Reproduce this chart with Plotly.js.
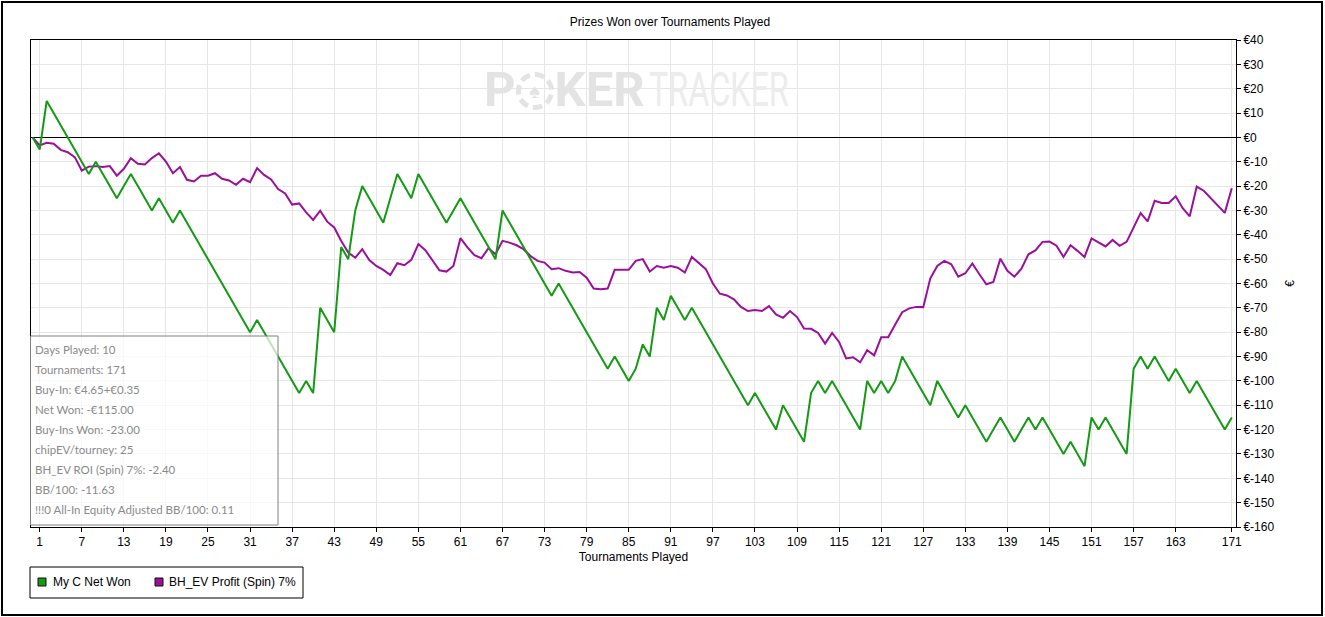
<!DOCTYPE html>
<html>
<head>
<meta charset="utf-8">
<script src="https://cdn.plot.ly/plotly-3.0.1.min.js"></script>
<style>
  html, body { margin: 0; padding: 0; background: #fff; }
  #wrap { position: relative; width: 1325px; height: 617px; overflow: hidden; }
  #chart { position: absolute; left: 0; top: 0; width: 1325px; height: 617px; }
  #frame { position: absolute; left: 1px; top: 1px; width: 1322px; height: 615px; box-sizing: border-box; border: 2px solid #000; pointer-events: none; }
  #wm { position: absolute; left: 484px; top: 60px; white-space: nowrap; pointer-events: none; font-family: Roboto, "Liberation Sans", sans-serif; font-size: 49px; line-height: 60px; }
  #wm .poker { font-weight: bold; color: #e3e3e3; display: inline-block; vertical-align: top; }
  #wm .chip { display: inline-block; width: 28px; height: 28px; border: 5px dashed #e3e3e3; border-radius: 50%; vertical-align: top; margin-top: 12px; margin-right: 1px; text-align: center; font-size: 20px; line-height: 28px; color: #e3e3e3; }
  #wm .tracker { font-weight: normal; color: #ececec; display: inline-block; transform: scaleX(0.66); transform-origin: left center; vertical-align: top; margin-left: 4px; }
</style>
</head>
<body>
<div id="wrap">
  <div id="chart"></div>
  <div id="wm"><span class="poker">P<span class="chip">♠</span>KER</span><span class="tracker">TRACKER</span></div>
  <div id="frame"></div>
</div>
<script>
// ---------------- DATA ----------------
const chartTitle = "Prizes Won over Tournaments Played";
const xTitle = "Tournaments Played";
const yTitle = "€";
const seriesNames = ["My C Net Won", "BH_EV Profit (Spin) 7%"];
const seriesColors = ["#149a14", "#9a109a"];

// My C Net Won, cumulative €, tournament 0..171
const netWon = [
  0, -5, 15, 10, 5, 0, -5, -10, -15, -10,
  -15, -20, -25, -20, -15, -20, -25, -30, -25, -30,
  -35, -30, -35, -40, -45, -50, -55, -60, -65, -70,
  -75, -80, -75, -80, -85, -90, -95, -100, -105, -100,
  -105, -70, -75, -80, -45, -50, -30, -20, -25, -30,
  -35, -25, -15, -20, -25, -15, -20, -25, -30, -35,
  -30, -25, -30, -35, -40, -45, -50, -30, -35, -40,
  -45, -50, -55, -60, -65, -60, -65, -70, -75, -80,
  -85, -90, -95, -90, -95, -100, -95, -85, -90, -70,
  -75, -65, -70, -75, -70, -75, -80, -85, -90, -95,
  -100, -105, -110, -105, -110, -115, -120, -110, -115, -120,
  -125, -105, -100, -105, -100, -105, -110, -115, -120, -100,
  -105, -100, -105, -100, -90, -95, -100, -105, -110, -100,
  -105, -110, -115, -110, -115, -120, -125, -120, -115, -120,
  -125, -120, -115, -120, -115, -120, -125, -130, -125, -130,
  -135, -115, -120, -115, -120, -125, -130, -95, -90, -95,
  -90, -95, -100, -95, -100, -105, -100, -105, -110, -115,
  -120, -115
];

// BH_EV Profit (Spin) 7%, cumulative €, tournament 0..171
const bhEvProfit = [
  0, -3.3, -2.2, -2.6, -5.1, -6.1, -8.1, -13.6, -12.0, -11.8,
  -12.2, -11.8, -15.7, -12.9, -8.5, -10.8, -11.1, -8.5, -6.5, -9.9,
  -14.7, -12.2, -17.4, -18.1, -15.7, -15.7, -14.7, -17.0, -17.7, -19.5,
  -17.0, -18.4, -12.6, -15.4, -17.3, -21.2, -23.0, -27.6, -27.1, -30.8,
  -33.9, -30.1, -34.6, -37.0, -42.5, -47.3, -49.4, -45.9, -50.4, -52.8,
  -54.4, -56.5, -51.7, -52.5, -50.3, -43.8, -46.3, -50.7, -54.6, -55.1,
  -52.8, -41.4, -45.2, -48.4, -49.6, -45.5, -48.0, -42.5, -43.2, -44.3,
  -45.9, -48.7, -50.7, -51.4, -54.1, -53.7, -54.8, -55.5, -55.3, -57.6,
  -62.1, -62.4, -62.1, -54.4, -54.4, -54.4, -50.7, -50.0, -55.1, -52.8,
  -53.5, -52.8, -53.5, -55.5, -49.1, -51.7, -54.1, -60.0, -64.2, -64.9,
  -66.5, -69.6, -71.3, -70.9, -71.3, -69.3, -72.7, -74.1, -71.3, -73.8,
  -78.5, -78.6, -80.3, -84.7, -80.3, -84.0, -90.8, -90.3, -92.4, -87.4,
  -89.5, -82.1, -82.1, -76.8, -71.8, -70.2, -69.6, -69.7, -58.0, -52.8,
  -50.7, -52.1, -57.2, -55.8, -51.8, -56.2, -60.3, -59.4, -49.8, -54.8,
  -57.2, -53.9, -48.0, -46.4, -42.9, -42.8, -44.5, -49.1, -44.3, -46.6,
  -49.1, -41.5, -43.2, -44.8, -42.1, -44.5, -42.9, -37.0, -31.1, -34.5,
  -26.0, -26.9, -26.9, -24.2, -29.1, -32.4, -20.2, -21.9, -24.9, -27.8,
  -31.0, -20.9
];

const xTickVals = [1, 7, 13, 19, 25, 31, 37, 43, 49, 55, 61, 67, 73, 79, 85, 91, 97, 103, 109, 115, 121, 127, 133, 139, 145, 151, 157, 163, 171];
const xTickText = ["1", "7", "13", "19", "25", "31", "37", "43", "49", "55", "61", "67", "73", "79", "85", "91", "97", "103", "109", "115", "121", "127", "133", "139", "145", "151", "157", "163", "171"];
const yTickVals = [40, 30, 20, 10, 0, -10, -20, -30, -40, -50, -60, -70, -80, -90, -100, -110, -120, -130, -140, -150, -160];
const yTickText = ["€40", "€30", "€20", "€10", "€0", "€-10", "€-20", "€-30", "€-40", "€-50", "€-60", "€-70", "€-80", "€-90", "€-100", "€-110", "€-120", "€-130", "€-140", "€-150", "€-160"];

const statsLines = [
  "Days Played: 10",
  "Tournaments: 171",
  "Buy-In: €4.65+€0.35",
  "Net Won: -€115.00",
  "Buy-Ins Won: -23.00",
  "chipEV/tourney: 25",
  "BH_EV ROI (Spin) 7%: -2.40",
  "BB/100: -11.63",
  "!!!0 All-In Equity Adjusted BB/100: 0.11"
];

// ---------------- CHART ----------------
const tournaments = netWon.map((_, i) => i);

const W = 1325, H = 617;
const M = { l: 31, r: 89, t: 40, b: 90 };
const PW = W - M.l - M.r, PH = H - M.t - M.b;
const px = (x) => (x - M.l) / PW;        // page px -> paper x
const py = (y) => (H - M.b - y) / PH;    // page px -> paper y

const axisFont = { family: "Liberation Sans, Arial, sans-serif", size: 12, color: "#000" };

const traces = [
  {
    x: tournaments, y: bhEvProfit, name: seriesNames[1], type: "scatter", mode: "lines",
    line: { color: seriesColors[1], width: 2 }, showlegend: false, hoverinfo: "skip"
  },
  {
    x: tournaments, y: netWon, name: seriesNames[0], type: "scatter", mode: "lines",
    line: { color: seriesColors[0], width: 2 }, showlegend: false, hoverinfo: "skip"
  }
];

const shapes = [
  // statistics box
  { type: "rect", xref: "paper", yref: "paper", x0: px(30.5), x1: px(278), y0: py(525), y1: py(336),
    fillcolor: "rgba(255,255,255,0.72)", line: { color: "#808080", width: 1 }, layer: "above" },
  // legend box
  { type: "rect", xref: "paper", yref: "paper", x0: px(30), x1: px(303), y0: py(598), y1: py(567),
    fillcolor: "#fff", line: { color: "#000", width: 1 }, layer: "above" },
  // legend swatches
  { type: "rect", xref: "paper", yref: "paper", x0: px(38), x1: px(46), y0: py(586), y1: py(578),
    fillcolor: seriesColors[0], line: { color: "#111", width: 1 }, layer: "above" },
  { type: "rect", xref: "paper", yref: "paper", x0: px(155), x1: px(163), y0: py(586), y1: py(578),
    fillcolor: seriesColors[1], line: { color: "#111", width: 1 }, layer: "above" }
];

const annotations = statsLines.map((t, i) => ({
  text: t, xref: "paper", yref: "paper", x: px(33), y: py(349 + 20 * i),
  xanchor: "left", yanchor: "middle", showarrow: false,
  font: { family: "Lato, Noto Sans, sans-serif", size: 11.5, color: "#8a8a8a" }
}));
annotations.push(
  { text: seriesNames[0], xref: "paper", yref: "paper", x: px(51), y: py(582), xanchor: "left", yanchor: "middle",
    showarrow: false, font: axisFont },
  { text: seriesNames[1], xref: "paper", yref: "paper", x: px(167), y: py(582), xanchor: "left", yanchor: "middle",
    showarrow: false, font: axisFont }
);

const layout = {
  width: W, height: H,
  margin: M,
  paper_bgcolor: "#fff", plot_bgcolor: "#fff",
  showlegend: false,
  title: { text: chartTitle, font: axisFont, xref: "container", x: 670 / W, xanchor: "center",
           yref: "container", y: 1 - 22 / H, yanchor: "middle" },
  xaxis: {
    range: [-0.24, 171.6], tickmode: "array", tickvals: xTickVals, ticktext: xTickText,
    showgrid: true, gridcolor: "#e6e6e6", gridwidth: 1, zeroline: false,
    showline: true, linecolor: "#000", linewidth: 1, mirror: true,
    ticks: "outside", ticklen: 4, tickcolor: "#000", tickfont: axisFont,
    title: { text: xTitle, font: axisFont, standoff: 4 }
  },
  yaxis: {
    range: [-160, 40], side: "right", tickmode: "array", tickvals: yTickVals, ticktext: yTickText,
    showgrid: true, gridcolor: "#e6e6e6", gridwidth: 1,
    zeroline: true, zerolinecolor: "#000", zerolinewidth: 1,
    showline: true, linecolor: "#000", linewidth: 1, mirror: true,
    ticks: "outside", ticklen: 4, tickcolor: "#000", tickfont: axisFont,
    title: { text: yTitle, font: axisFont, standoff: 12 }
  },
  shapes: shapes,
  annotations: annotations
};

Plotly.newPlot("chart", traces, layout, { staticPlot: true, displayModeBar: false });
</script>
</body>
</html>
